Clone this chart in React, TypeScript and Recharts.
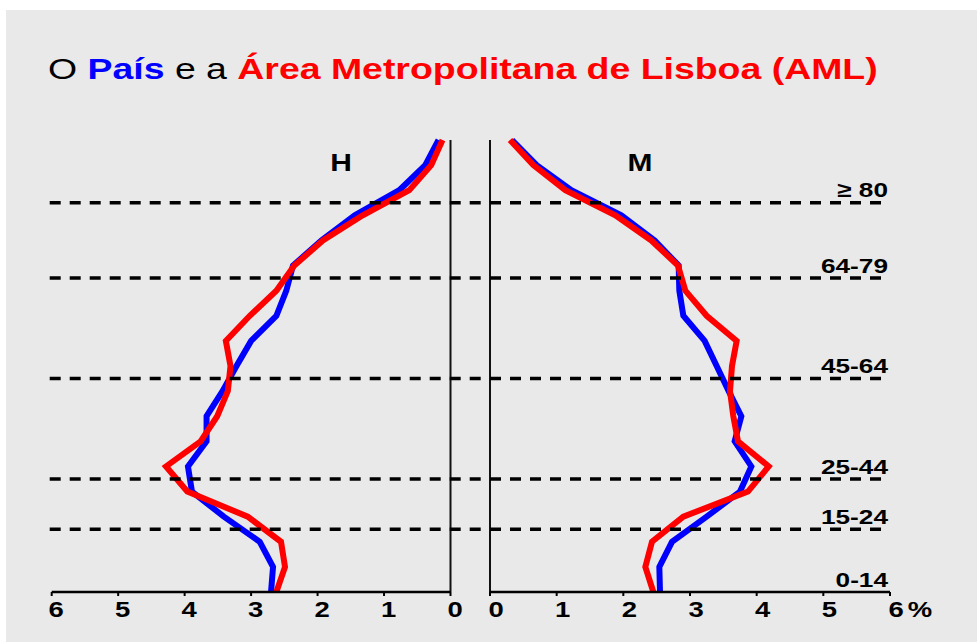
import React from 'react';
import { LineChart, Line, XAxis, YAxis, ReferenceLine } from 'recharts';

// ---- data (percent of population, by 5-year age group) ----
const ageGroups = ['0-4', '5-9', '10-14', '15-19', '20-24', '25-29', '30-34', '35-39', '40-44', '45-49', '50-54', '55-59', '60-64', '65-69', '70-74', '75-79', '80-84', '85-89', '90+'];
const homensPais = [2.70, 2.67, 2.87, 3.41, 3.89, 3.95, 3.67, 3.67, 3.43, 3.22, 3.00, 2.62, 2.47, 2.37, 1.94, 1.44, 0.77, 0.38, 0.18];
const homensAML = [2.62, 2.49, 2.55, 3.05, 3.96, 4.28, 3.76, 3.51, 3.35, 3.31, 3.38, 3.02, 2.62, 2.35, 1.92, 1.32, 0.62, 0.29, 0.12];
const mulheresPais = [2.55, 2.54, 2.73, 3.25, 3.75, 3.92, 3.67, 3.77, 3.58, 3.40, 3.22, 2.90, 2.84, 2.83, 2.47, 1.97, 1.22, 0.70, 0.33];
const mulheresAML = [2.45, 2.33, 2.43, 2.90, 3.87, 4.18, 3.72, 3.65, 3.60, 3.63, 3.70, 3.25, 2.93, 2.82, 2.42, 1.88, 1.13, 0.65, 0.30];
const xTicks = [0, 1, 2, 3, 4, 5, 6];
// boundaries between broad age bands (in age-group index units) and their labels
const bandBoundaries = [15.5, 12.5, 8.5, 4.5, 2.5];
const bandLabels = ['≥ 80', '64-79', '45-64', '25-44', '15-24'];
const bottomBandLabel = '0-14';

const W = 977;
const H = 642;
const FONT = '"Liberation Sans", Arial, Helvetica, sans-serif';
const SX = 1.248;

const leftData = ageGroups.map((g, i) => ({ idx: i, age: g, pais: homensPais[i], aml: homensAML[i] }));
const rightData = ageGroups.map((g, i) => ({ idx: i, age: g, pais: mulheresPais[i], aml: mulheresAML[i] }));

function TickL(props: any) {
  const { x, y, payload } = props;
  return (
    <g transform={`translate(${x + 4.5},${y + 19}) scale(${SX},1)`}>
      <text x={0} y={0} textAnchor="middle" fontFamily={FONT} fontWeight="bold" fontSize={22} fill="#000">
        {payload.value}
      </text>
    </g>
  );
}

function TickR(props: any) {
  const { x, y, payload } = props;
  return (
    <g>
      <g transform={`translate(${x + 6},${y + 19}) scale(${SX},1)`}>
        <text x={0} y={0} textAnchor="middle" fontFamily={FONT} fontWeight="bold" fontSize={22} fill="#000">
          {payload.value}
        </text>
      </g>
      {payload.value === 6 ? (
        <g transform={`translate(${x + 30},${y + 19}) scale(${SX},1)`}>
          <text x={0} y={0} textAnchor="middle" fontFamily={FONT} fontWeight="bold" fontSize={22} fill="#000">
            %
          </text>
        </g>
      ) : null}
    </g>
  );
}

function AgeLabel(props: any) {
  const { viewBox, text } = props;
  if (!viewBox) return null;
  const xEnd = viewBox.x + (viewBox.width || 0);
  const y = viewBox.y;
  return (
    <g transform={`translate(${xEnd - 2},${y - 5.5}) scale(${SX},1)`}>
      <text x={0} y={0} textAnchor="end" fontFamily={FONT} fontWeight="bold" fontSize={21} fill="#000">
        {text}
      </text>
    </g>
  );
}

export default function App() {
  return (
    <div style={{ position: 'absolute', left: 0, top: 0, width: W, height: H, background: '#fff', overflow: 'hidden' }}>
      <div style={{ position: 'absolute', left: 6, top: 10, right: 0, bottom: 0, background: '#E9E9E9' }} />
      <svg width={W} height={H} style={{ position: 'absolute', left: 0, top: 0 }}>
        <g transform={`translate(48,79) scale(${SX},1)`}>
          <text x={0} y={0} fontFamily={FONT} fontSize={30} fill="#000">
            <tspan>O </tspan>
            <tspan fill="#0000FF" fontWeight="bold">País</tspan>
            <tspan> e a </tspan>
            <tspan fill="#FF0000" fontWeight="bold">Área Metropolitana de Lisboa (AML)</tspan>
          </text>
        </g>
        <g transform={`translate(341,171) scale(${SX},1)`}>
          <text textAnchor="middle" fontFamily={FONT} fontWeight="bold" fontSize={24} fill="#000">H</text>
        </g>
        <g transform={`translate(640,171) scale(${SX},1)`}>
          <text textAnchor="middle" fontFamily={FONT} fontWeight="bold" fontSize={24} fill="#000">M</text>
        </g>
      </svg>
      <div style={{ position: 'absolute', left: 0, top: 0 }}>
        <LineChart
          width={W}
          height={H}
          data={leftData}
          layout="vertical"
          margin={{ top: 140, right: 526.5, bottom: 20, left: 51.7 }}
        >
          <XAxis
            type="number"
            domain={[0, 6]}
            ticks={xTicks}
            reversed
            height={30}
            interval={0}
            axisLine={{ stroke: '#000', strokeWidth: 2.5 }}
            tickLine={{ stroke: '#000', strokeWidth: 2 }}
            tickSize={4}
            tick={<TickL />}
          />
          <YAxis type="number" dataKey="idx" domain={[0, 18]} reversed hide />
          <ReferenceLine x={0} stroke="#111" strokeWidth={2} />
          <Line type="linear" dataKey="pais" stroke="#0000FF" strokeWidth={6} dot={false} activeDot={false} isAnimationActive={false} />
          <Line type="linear" dataKey="aml" stroke="#FF0000" strokeWidth={6} dot={false} activeDot={false} isAnimationActive={false} />
          {bandBoundaries.map((b) => (
            <ReferenceLine
              key={`l${b}`}
              segment={[{ x: 6.03, y: b }, { x: -0.6, y: b }]}
              ifOverflow="visible"
              stroke="#000"
              strokeWidth={3.5}
              strokeDasharray="11 9"
            />
          ))}
        </LineChart>
      </div>
      <div style={{ position: 'absolute', left: 0, top: 0 }}>
        <LineChart
          width={W}
          height={H}
          data={rightData}
          layout="vertical"
          margin={{ top: 140, right: 87, bottom: 20, left: 490 }}
        >
          <XAxis
            type="number"
            domain={[0, 6]}
            ticks={xTicks}
            height={30}
            interval={0}
            axisLine={{ stroke: '#000', strokeWidth: 2.5 }}
            tickLine={{ stroke: '#000', strokeWidth: 2 }}
            tickSize={4}
            tick={<TickR />}
          />
          <YAxis type="number" dataKey="idx" domain={[0, 18]} reversed hide />
          <ReferenceLine x={0} stroke="#111" strokeWidth={2} />
          <Line type="linear" dataKey="pais" stroke="#0000FF" strokeWidth={6} dot={false} activeDot={false} isAnimationActive={false} />
          <Line type="linear" dataKey="aml" stroke="#FF0000" strokeWidth={6} dot={false} activeDot={false} isAnimationActive={false} />
          {bandBoundaries.map((b, i) => (
            <ReferenceLine
              key={`r${b}`}
              y={b}
              stroke="#000"
              strokeWidth={3.5}
              strokeDasharray="11 9"
              label={<AgeLabel text={bandLabels[i]} />}
            />
          ))}
          <ReferenceLine y={0} stroke="none" label={<AgeLabel text={bottomBandLabel} />} />
        </LineChart>
      </div>
    </div>
  );
}
